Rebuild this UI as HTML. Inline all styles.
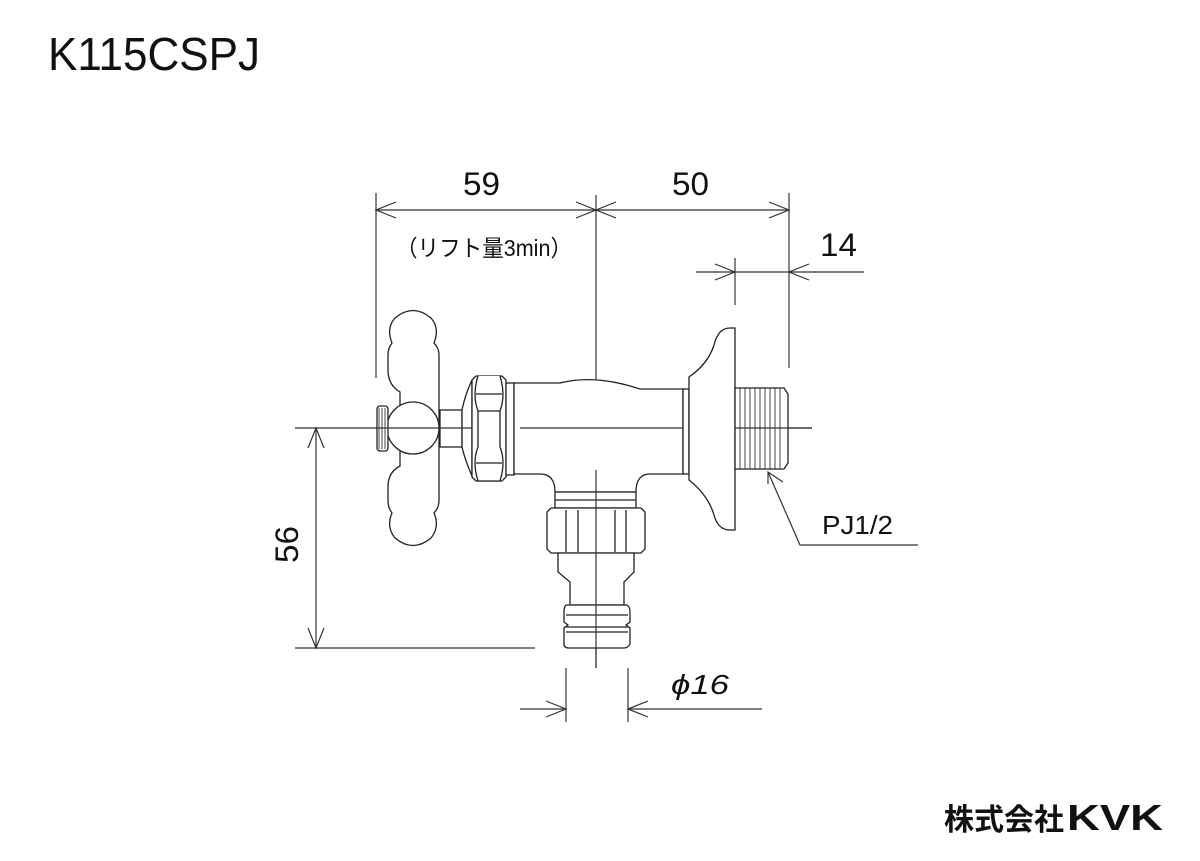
<!DOCTYPE html>
<html><head><meta charset="utf-8"><style>
html,body{margin:0;padding:0;background:#fff;}
body{width:1200px;height:856px;overflow:hidden;}
text{font-family:"Liberation Sans","Noto Sans CJK JP",sans-serif;fill:#111;}
</style></head><body>
<svg width="1200" height="856" viewBox="0 0 1200 856" xmlns="http://www.w3.org/2000/svg">
<text x="48" y="70" font-size="46" textLength="212" lengthAdjust="spacingAndGlyphs">K115CSPJ</text>

<g stroke="#333" stroke-width="1.2" fill="none">
<line x1="596" y1="195" x2="596" y2="668"/>
<line x1="295" y1="428" x2="812" y2="428"/>
<line x1="376" y1="193" x2="376" y2="378"/>
<line x1="789" y1="193" x2="789" y2="368"/>
<line x1="735" y1="258" x2="735" y2="305"/>
<line x1="376" y1="210" x2="789" y2="210"/>
<polyline points="396,202 376,210 396,218"/>
<polyline points="576,202 596,210 576,218"/>
<polyline points="616,202 596,210 616,218"/>
<polyline points="769,202 789,210 769,218"/>
<line x1="696" y1="272" x2="735" y2="272"/>
<line x1="735" y1="272" x2="789" y2="272"/>
<line x1="789" y1="272" x2="864" y2="272"/>
<polyline points="715,264 735,272 715,280"/>
<polyline points="809,264 789,272 809,280"/>
<line x1="295" y1="648" x2="535" y2="648"/>
<line x1="316" y1="428" x2="316" y2="648"/>
<polyline points="308,448 316,428 324,448"/>
<polyline points="308,628 316,648 324,628"/>
<line x1="566" y1="668" x2="566" y2="722"/>
<line x1="628" y1="668" x2="628" y2="722"/>
<line x1="520" y1="709" x2="566" y2="709"/>
<line x1="628" y1="709" x2="762" y2="709"/>
<polyline points="546,701 566,709 546,717"/>
<polyline points="648,701 628,709 648,717"/>
<polyline points="768,472 800,545 918,545"/>
<polyline points="768,484 768,472 783,482"/>
</g>

<g stroke="#222" stroke-width="1.3" fill="#fff">
<path d="M400,392 Q388,385 388,370 L388,355 Q388,348 392,343 Q386,328 395,318 Q413,303 431,318 Q440,328 434,343 Q439,348 439,355 L439,388 L439,470 L439,500 Q439,508 434,513 Q440,527 431,538 Q413,553 395,538 Q386,527 392,513 Q388,508 388,500 L388,487 Q388,472 400,466 Z"/>
<circle cx="413" cy="428" r="26"/>
<rect x="377" y="406" width="11" height="45" rx="3"/>
<rect x="440" y="410" width="22" height="37"/>
<path d="M462,410 Q465,395 472,380 L472,476 Q465,460 462,447 Z"/>
<path d="M476,376 L502,376 L506,380 L506,477 L502,481 L476,481 L472,477 L472,380 Z"/>
<path d="M478,376 Q472,395 478,411 L500,411 Q506,395 500,376"/>
<path d="M478,447 Q472,462 478,481 L500,481 Q506,462 500,447"/>
<line x1="478" y1="411" x2="478" y2="447"/><line x1="500" y1="411" x2="500" y2="447"/>
<line x1="476" y1="394" x2="502" y2="394"/><line x1="476" y1="463" x2="502" y2="463"/>
<rect x="506" y="383" width="8" height="92"/>
<path d="M514,383 L560,383 Q595,374 640,389 L683,389 L683,474 L650,474 Q636,474 636,492 L555,492 Q555,474 540,474 L514,474 Z"/>
<rect x="683" y="389" width="6" height="85"/>
<path d="M689,377 Q708,364 714,345 Q718,328 730,328 L735,328 L735,530 L730,530 Q718,530 714,515 Q708,495 689,480 Z"/>
<path d="M735,388 L784,388 L788,394 L788,463 L784,469 L735,469 Z"/>
</g>
<g stroke="#333" stroke-width="0.9">
<line x1="740" y1="388" x2="740" y2="469"/><line x1="745" y1="388" x2="745" y2="469"/>
<line x1="750" y1="388" x2="750" y2="469"/><line x1="755" y1="388" x2="755" y2="469"/>
<line x1="760" y1="388" x2="760" y2="469"/><line x1="765" y1="388" x2="765" y2="469"/>
<line x1="770" y1="388" x2="770" y2="469"/><line x1="775" y1="388" x2="775" y2="469"/>
<line x1="780" y1="388" x2="780" y2="469"/>
<line x1="379" y1="408" x2="379" y2="449"/><line x1="382" y1="408" x2="382" y2="449"/><line x1="385" y1="408" x2="385" y2="449"/>
</g>
<g stroke="#222" stroke-width="1.3" fill="#fff">
<rect x="555" y="492" width="81" height="16"/>
<line x1="555" y1="500" x2="636" y2="500"/>
<path d="M551,508 L641,508 L645,512 L645,549 L641,553 L551,553 L547,549 L547,512 Z"/>
<line x1="566" y1="510" x2="566" y2="552"/><line x1="578" y1="510" x2="578" y2="552"/>
<line x1="615" y1="510" x2="615" y2="552"/><line x1="626" y1="510" x2="626" y2="552"/>
<path d="M558,553 L634,553 L634,572 L624,582 L624,605 L570,605 L570,582 L558,572 Z"/>
<path d="M566,605 L627,605 Q630,607 630,612 L630,622 L626,625 L630,628 L630,644 Q628,648 624,648 L569,648 Q564,648 564,644 L564,628 L568,625 L564,622 L564,612 Q564,607 566,605 Z"/>
<line x1="566" y1="615" x2="628" y2="615"/>
<line x1="566" y1="627" x2="628" y2="627"/>
<line x1="566" y1="632" x2="628" y2="632"/>
</g>
<line x1="596" y1="470" x2="596" y2="668" stroke="#333" stroke-width="1.2"/>
<line x1="520" y1="428" x2="683" y2="428" stroke="#333" stroke-width="1.2"/>
<line x1="376" y1="428" x2="472" y2="428" stroke="#333" stroke-width="1.2"/>
<line x1="735" y1="428" x2="812" y2="428" stroke="#333" stroke-width="1.2"/>

<text x="463" y="195" font-size="32" textLength="37" lengthAdjust="spacingAndGlyphs">59</text>
<text x="672" y="195" font-size="32" textLength="37" lengthAdjust="spacingAndGlyphs">50</text>
<text x="820" y="256" font-size="32" textLength="37" lengthAdjust="spacingAndGlyphs">14</text>
<text x="396" y="256" font-size="23" textLength="176" lengthAdjust="spacingAndGlyphs">（リフト量3min）</text>
<text x="822" y="534" font-size="26" textLength="71" lengthAdjust="spacingAndGlyphs">PJ1/2</text>
<text x="671" y="694" font-size="28" font-style="italic" textLength="58" lengthAdjust="spacingAndGlyphs">ϕ16</text>
<text transform="translate(298,563) rotate(-90)" font-size="32" textLength="37" lengthAdjust="spacingAndGlyphs">56</text>
<text x="944" y="830" font-size="30" font-weight="bold">株式会社</text>
<text x="1067" y="830" font-size="36" font-weight="bold" textLength="96" lengthAdjust="spacingAndGlyphs">KVK</text>
</svg>
</body></html>
